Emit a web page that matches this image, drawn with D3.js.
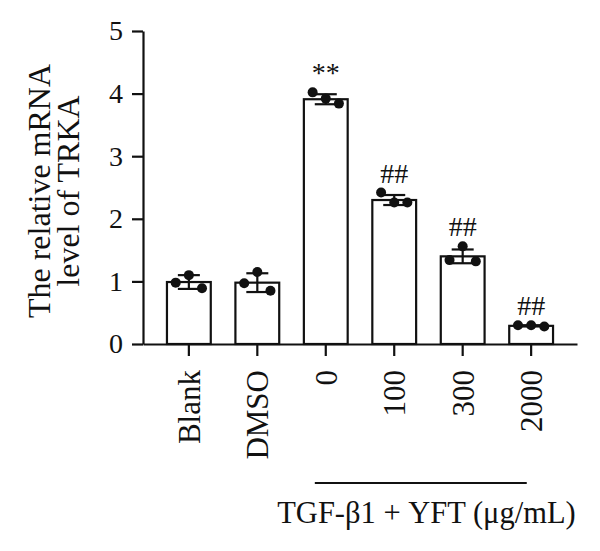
<!DOCTYPE html>
<html>
<head>
<meta charset="utf-8">
<script src="https://cdn.jsdelivr.net/npm/d3@7"></script>
<style>
  body { margin: 0; background: #fff; }
  text { font-family: "Liberation Serif", "Times New Roman", serif; fill: #111; }
</style>
</head>
<body>
<svg id="chart" width="600" height="551"></svg>
<script>
// groups along x
var groups = ["Blank", "DMSO", "0", "100", "300", "2000"];
// bar heights (mean) and SD
var means = [0.99, 0.98, 3.91, 2.30, 1.40, 0.29];
var sds = [0.11, 0.15, 0.08, 0.08, 0.11, 0.01];
// the three replicate dots per group
var reps = [
	[0.98, 1.10, 0.89],
	[0.97, 1.15, 0.85],
	[4.02, 3.92, 3.84],
	[2.42, 2.26, 2.26],
	[1.34, 1.56, 1.32],
	[0.30, 0.30, 0.28]
];
var marks = ["", "", "**", "##", "##", "##"];
var yTicks = [0, 1, 2, 3, 4, 5];

var svg = d3.select("#chart");
var ink = "#111";

var x = d3.scaleBand()
	.domain(groups)
	.range([143, 577])
	.paddingInner(0.36)
	.paddingOuter(0.35);

var y = d3.scaleLinear()
	.domain([0, 5])
	.range([344, 31]);

var bw = x.bandwidth();

//bars
svg.selectAll("rect.bar")
	.data(groups)
	.enter().append("rect")
	.attr("class", "bar")
	.attr("x", function(d){ return x(d); })
	.attr("y", function(d, i){ return y(means[i]); })
	.attr("width", bw)
	.attr("height", function(d, i){ return y(0) - y(means[i]); })
	.attr("fill", "#fff")
	.attr("stroke", ink)
	.attr("stroke-width", 2.2);

//error bars (mean +/- sd with caps)
var err = svg.selectAll("g.err")
	.data(groups)
	.enter().append("g")
	.attr("class", "err")
	.attr("transform", function(d){ return "translate(" + (x(d) + bw / 2) + ",0)"; });

err.append("line")
	.attr("x1", 0).attr("x2", 0)
	.attr("y1", function(d, i){ return y(means[i] + sds[i]); })
	.attr("y2", function(d, i){ return y(means[i] - sds[i]); })
	.attr("stroke", ink).attr("stroke-width", 2.2);
err.append("line")
	.attr("x1", -11).attr("x2", 11)
	.attr("y1", function(d, i){ return y(means[i] + sds[i]); })
	.attr("y2", function(d, i){ return y(means[i] + sds[i]); })
	.attr("stroke", ink).attr("stroke-width", 2.2);
err.append("line")
	.attr("x1", -11).attr("x2", 11)
	.attr("y1", function(d, i){ return y(means[i] - sds[i]); })
	.attr("y2", function(d, i){ return y(means[i] - sds[i]); })
	.attr("stroke", ink).attr("stroke-width", 2.2);

//replicate dots
var spread = [-0.3, 0, 0.3];
groups.forEach(function(g, i){
	svg.selectAll(null)
		.data(reps[i])
		.enter().append("circle")
		.attr("cx", function(d, j){ return x(g) + bw / 2 + spread[j] * bw; })
		.attr("cy", function(d){ return y(d); })
		.attr("r", 5)
		.attr("fill", ink);
});

//significance marks
svg.selectAll("text.mark")
	.data(groups)
	.enter().append("text")
	.attr("class", "mark")
	.attr("x", function(d){ return x(d) + bw / 2; })
	.attr("y", function(d, i){
		var top = Math.max(means[i] + sds[i], d3.max(reps[i]));
		return y(top) - 10;
	})
	.attr("text-anchor", "middle")
	.style("font-size", "28px")
	.text(function(d, i){ return marks[i]; });

//y axis
var yAxis = svg.append("g")
	.attr("transform", "translate(143,0)")
	.call(d3.axisLeft(y).tickValues(yTicks).tickFormat(d3.format("d")).tickSize(11).tickSizeOuter(0).tickPadding(9));
yAxis.select(".domain").attr("stroke", ink).attr("stroke-width", 2.2);
yAxis.selectAll(".tick line").attr("stroke", ink).attr("stroke-width", 2.2);
yAxis.selectAll(".tick text").style("font-size", "28px").attr("fill", ink);

//x axis
var xAxis = svg.append("g")
	.attr("transform", "translate(0,344)")
	.call(d3.axisBottom(x).tickSize(12).tickSizeOuter(0));
xAxis.select(".domain").attr("stroke", ink).attr("stroke-width", 2.2);
xAxis.selectAll(".tick line").attr("stroke", ink).attr("stroke-width", 2.2);
xAxis.selectAll(".tick text")
	.style("font-size", "31px")
	.attr("fill", ink)
	.attr("text-anchor", "end")
	.attr("transform", "rotate(-90)")
	.attr("x", -26)
	.attr("y", 0)
	.attr("dy", "0.35em");

//y title
var yTitle = svg.append("text")
	.attr("transform", "translate(50,191) rotate(-90)")
	.attr("text-anchor", "middle")
	.style("font-size", "32px");
yTitle.append("tspan").attr("x", 0).attr("dy", 0).text("The relative mRNA");
yTitle.append("tspan").attr("x", 0).attr("dy", 29).text("level of TRKA");

//treatment bracket and label
svg.append("line")
	.attr("x1", x("0") + bw * 0.25)
	.attr("x2", x("2000") + bw * 0.4)
	.attr("y1", 483).attr("y2", 483)
	.attr("stroke", ink).attr("stroke-width", 2.2);

svg.append("text")
	.attr("x", (x("0") + x("2000") + bw) / 2 - 2)
	.attr("y", 523)
	.attr("text-anchor", "middle")
	.style("font-size", "30.5px")
	.text("TGF-\u03b21 + YFT (\u03bcg/mL)");
</script>
</body>
</html>
